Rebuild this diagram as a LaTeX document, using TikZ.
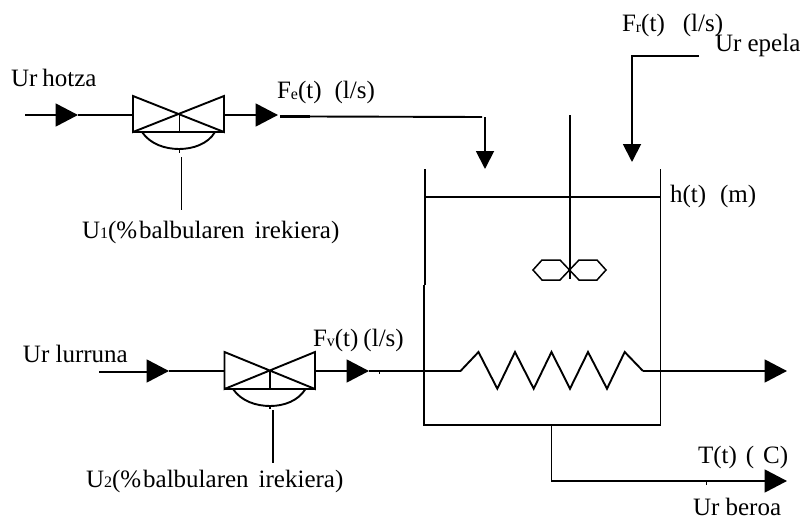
\documentclass[tikz,border=0pt]{standalone}
\usepackage{fontspec}
\setmainfont{Liberation Serif}
\usetikzlibrary{arrows.meta}
\newcommand{\lowsub}[1]{\raisebox{-0.5pt}{\fontsize{16}{18}\selectfont #1}}
\tikzset{
  pipe/.style={line width=1.9pt,line join=miter},
  flow/.style={pipe,-{Triangle[length=22.5pt,width=23pt]}},
  drop/.style={pipe,-{Triangle[length=18pt,width=18pt]}},
  lab/.style={anchor=base west,inner sep=0pt,outer sep=0pt,font=\fontsize{25}{29}\selectfont},
}
\begin{document}
\begin{tikzpicture}[x=1pt,y=-1pt]
\useasboundingbox (0,0) rectangle (801,519);
% labels
\node[lab] (hotza) at (11,87) {Ur\hspace{5pt}hotza};
\node[lab] (fe) at (277,99) {F\lowsub{e}(t)\hspace{13pt}(l/s)};
\node[lab] (u1) at (82,238) {U\lowsub{1}(\%\hspace{2pt}balbularen\hspace{10pt}irekiera)};
\node[lab] (lurr) at (23,362) {Ur lurruna};
\node[lab] (fv) at (313,346) {F\lowsub{v}(t)\hspace{5pt}(l/s)};
\node[lab] (u2) at (86,487) {U\lowsub{2}(\%\hspace{2pt}balbularen\hspace{10pt}irekiera)};
\node[lab] (fr) at (622,32) {F\lowsub{r}(t)\hspace{18pt}(l/s)};
\node[lab] (epela) at (715,52) {Ur epela};
\node[lab] (hl) at (670,202) {h(t)\hspace{14pt}(m)};
\node[lab] (tl) at (698,463) {T(t)\hspace{9pt}(\hspace{9pt}C)};
\node[lab] (beroa) at (693,515) {Ur beroa};
% coordinates
\coordinate (a0) at (25,115);  \coordinate (a1) at (78,115);  \coordinate (v1l) at (133,115);
\coordinate (v1r) at (224,115); \coordinate (a2) at (278,115);
\coordinate (p1) at (280,116.5); \coordinate (p2) at (310,116.5);
\coordinate (p3) at (482,117); \coordinate (d0) at (485,117); \coordinate (d1) at (485,169);
\coordinate (r0) at (699,56); \coordinate (r1) at (632,56); \coordinate (r2) at (632,162);
\coordinate (b0) at (99,372); \coordinate (b1) at (169,371); \coordinate (v2l) at (224.5,371);
\coordinate (v2r) at (315,371); \coordinate (b2) at (369,371);
\coordinate (c1) at (460.5,371); \coordinate (c2) at (643,371); \coordinate (c3) at (787,371);
\coordinate (o0) at (551.5,425); \coordinate (o1) at (551.5,481); \coordinate (o2) at (787,481);
% top valve line
\draw[flow] (a0) -- (a1);
\draw[pipe] (a1) -- (v1l);
\draw[pipe] (133,96) -- (224,132) -- (224,96) -- (133,132) -- cycle;
\draw[pipe] (179.5,113.5) -- (179.5,132);
\draw[pipe] (133,132) -- (224,132);
\draw[pipe] (142,132) .. controls (150,144) and (165,149) .. (179,149) .. controls (193,149) and (208,144) .. (215,132);
\fill (178.7,150) rectangle (180.2,152.5);
\draw[pipe] (181.5,157) -- (181.5,210);
\draw[flow] (v1r) -- (a2);
\draw[line width=2.8pt] (p1) -- (p2);
\draw[pipe] (p2) -- (p3);
\draw[drop] (d0) -- (d1);
% warm water
\draw[drop] (r0) -- (r1) -- (r2);
% bottom valve line
\draw[pipe] (b0) -- (147,372);
\draw[flow] (147,371) -- (b1);
\draw[pipe] (b1) -- (v2l);
\draw[pipe] (224.5,352) -- (315,389) -- (315,352) -- (224.5,389) -- cycle;
\draw[pipe] (270,370.5) -- (270,389);
\draw[pipe] (224.5,389) -- (315,389);
\draw[pipe] (233,389) .. controls (241,401) and (256,406) .. (270,406) .. controls (284,406) and (298,401) .. (305.5,389);
\fill (269.3,406.5) rectangle (270.8,408.5);
\draw[pipe] (273,410) -- (273,463);
\draw[flow] (v2r) -- (b2);
\draw[pipe] (b2) -- (c1);
\fill (378.5,371) rectangle (380,374);
% tank
\draw[pipe] (425,169) -- (425,285);
\draw[pipe] (424,285) -- (424,425) -- (660.5,425) -- (660.5,169);
\draw[pipe] (425,197) -- (660.5,197);
\draw[pipe] (570,115) -- (570,279);
\draw[pipe,line width=1.5pt] (533,270) -- (542,260) -- (560,260) -- (579,280) -- (597,280) -- (606,270) -- (597,260) -- (579,260) -- (560,280) -- (542,280) -- cycle;
% coil
\draw[pipe] (c1) -- (478.5,352) -- (497.3,388.7) -- (515,352) -- (533.7,388.7) -- (551.5,352) -- (570,388.7) -- (588,352) -- (607,388.7) -- (624.7,352) -- (c2);
\draw[flow] (c2) -- (c3);
% outlet
\draw[flow] (o0) -- (o1) -- (o2);
\fill (705.5,481) rectangle (707,484.5);
\end{tikzpicture}
\end{document}
